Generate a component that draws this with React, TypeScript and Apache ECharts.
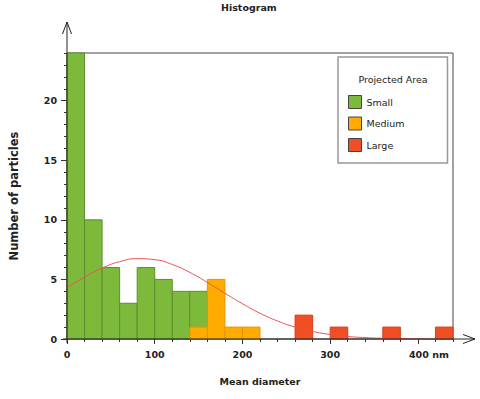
import React, { useEffect, useRef } from "react";
import * as echarts from "echarts";

const BIN_WIDTH = 20;
const smallStarts = [0, 20, 40, 60, 80, 100, 120, 140];
const smallCounts = [24, 10, 6, 3, 6, 5, 4, 4];
const mediumStarts = [140, 160, 180, 200];
const mediumCounts = [1, 5, 1, 1];
const largeStarts = [260, 300, 360, 420];
const largeCounts = [2, 1, 1, 1];
const curveX = [0, 20, 40, 60, 80, 100, 120, 140, 160, 180, 200, 220, 240, 260, 280, 300, 320, 340, 360, 380, 400, 420, 440];
const curveY = [4.3, 5.19, 5.95, 6.49, 6.74, 6.66, 6.25, 5.59, 4.75, 3.84, 2.96, 2.16, 1.51, 1.0, 0.63, 0.38, 0.21, 0.12, 0.06, 0.03, 0.01, 0, 0];
const xTicks = [0, 100, 200, 300, 400];
const yTicks = [0, 5, 10, 15, 20];
const X_MAX = 440;
const Y_MAX = 24;

const FONT = "DejaVu Sans";

function bins(starts: number[], counts: number[]) {
  return starts.map((s, i) => [s, s + BIN_WIDTH, counts[i]]);
}

function barSeries(name: string, starts: number[], counts: number[], fill: string, stroke: string, z: number) {
  return {
    type: "custom",
    name,
    z,
    itemStyle: { color: fill },
    encode: { x: [0, 1], y: 2 },
    data: bins(starts, counts),
    renderItem: (params: any, api: any) => {
      const p0 = api.coord([api.value(0), api.value(2)]);
      const p1 = api.coord([api.value(1), 0]);
      return {
        type: "rect",
        shape: { x: p0[0], y: p0[1], width: p1[0] - p0[0], height: p1[1] - p0[1] },
        style: { fill, stroke, lineWidth: 1 },
      };
    },
  };
}

export default function App() {
  const ref = useRef<HTMLDivElement>(null);
  useEffect(() => {
    if (!ref.current) return;
    const chart = echarts.init(ref.current, null, { renderer: "svg" });
    const labelStyle = { fontFamily: FONT, fontSize: 9.5, fontWeight: "bold", color: "#222" };
    chart.setOption({
      animation: false,
      backgroundColor: "#fff",
      title: {
        text: "Histogram",
        left: 221,
        top: 2,
        padding: 0,
        textStyle: { fontFamily: FONT, fontSize: 9.5, fontWeight: "bold", color: "#222" },
      },
      grid: {
        left: 67,
        right: 27,
        top: 53,
        bottom: 60,
        show: true,
        borderColor: "#444",
        borderWidth: 1,
        backgroundColor: "transparent",
      },
      legend: {
        orient: "vertical",
        left: 338,
        top: 57,
        padding: [38, 43, 11, 10],
        itemWidth: 13,
        itemHeight: 13,
        itemGap: 7.5,
        backgroundColor: "#fff",
        borderColor: "#999",
        borderWidth: 1.5,
        textStyle: { fontFamily: FONT, fontSize: 9.5, color: "#222" },
        data: [
          { name: "Small", icon: "rect", itemStyle: { borderColor: "#444", borderWidth: 1 } },
          { name: "Medium", icon: "rect", itemStyle: { borderColor: "#444", borderWidth: 1 } },
          { name: "Large", icon: "rect", itemStyle: { borderColor: "#444", borderWidth: 1 } },
        ],
      },
      xAxis: [
        {
          type: "value",
          min: 0,
          max: X_MAX,
          position: "bottom",
          name: "Mean diameter",
          nameLocation: "middle",
          nameGap: 37,
          nameTextStyle: { fontFamily: FONT, fontSize: 9.5, fontWeight: "bold", color: "#222" },
          axisLine: { show: false },
          splitLine: { show: false },
          axisTick: { show: true, length: 5, lineStyle: { color: "#333" }, customValues: xTicks },
          axisLabel: {
            ...labelStyle,
            margin: 10,
            customValues: xTicks,
            formatter: (v: number) => (v === 400 ? "{u|400 nm}" : String(v)),
            rich: { u: { ...labelStyle, padding: [0, 0, 0, 22] } },
          },
        },
        {
          type: "value",
          min: 0,
          max: X_MAX,
          interval: BIN_WIDTH,
          position: "bottom",
          axisLine: { show: false },
          splitLine: { show: false },
          axisLabel: { show: false },
          axisTick: { show: true, length: 3, lineStyle: { color: "#333" } },
        },
      ],
      yAxis: [
        {
          type: "value",
          min: 0,
          max: Y_MAX,
          position: "left",
          name: "Number of particles",
          nameLocation: "middle",
          nameGap: 47,
          nameTextStyle: { fontFamily: FONT, fontSize: 11.5, fontWeight: "bold", color: "#222" },
          axisLine: { show: false },
          splitLine: { show: false },
          axisTick: { show: true, length: 6, lineStyle: { color: "#333" }, customValues: yTicks },
          axisLabel: { ...labelStyle, margin: 10, customValues: yTicks },
        },
        {
          type: "value",
          min: 0,
          max: Y_MAX,
          interval: 1,
          position: "left",
          axisLine: { show: false },
          splitLine: { show: false },
          axisLabel: { show: false },
          axisTick: { show: true, length: 3, lineStyle: { color: "#333" } },
        },
      ],
      graphic: [
        { type: "line", shape: { x1: 67, y1: 343, x2: 67, y2: 22 }, style: { stroke: "#222", lineWidth: 1 }, z: 100 },
        { type: "polyline", shape: { points: [[62.5, 34], [67, 22], [71.5, 34]] }, style: { stroke: "#222", lineWidth: 1, fill: "none" }, z: 100 },
        { type: "line", shape: { x1: 63, y1: 339, x2: 475, y2: 339 }, style: { stroke: "#222", lineWidth: 1 }, z: 100 },
        { type: "polyline", shape: { points: [[463, 334.5], [475, 339], [463, 343.5]] }, style: { stroke: "#222", lineWidth: 1, fill: "none" }, z: 100 },
        {
          type: "text",
          x: 393,
          y: 79,
          z: 200,
          style: { text: "Projected Area", fontFamily: FONT, fontSize: 9.5, fill: "#222", align: "center", verticalAlign: "middle" },
        },
      ],
      series: [
        barSeries("Small", smallStarts, smallCounts, "#7dba3c", "#5d8f2b", 2),
        barSeries("Medium", mediumStarts, mediumCounts, "#ffab00", "#e29600", 3),
        barSeries("Large", largeStarts, largeCounts, "#f04e23", "#d63d18", 4),
        {
          type: "line",
          name: "fit",
          z: 10,
          smooth: true,
          showSymbol: false,
          symbol: "none",
          lineStyle: { color: "#f05050", width: 1 },
          itemStyle: { color: "#f05050" },
          data: curveX.map((x, i) => [x, curveY[i]]),
        },
      ],
    });
    return () => chart.dispose();
  }, []);
  return (
    <div
      ref={ref}
      style={{ position: "fixed", left: 0, top: 0, width: 480, height: 399, background: "#fff" }}
    />
  );
}
